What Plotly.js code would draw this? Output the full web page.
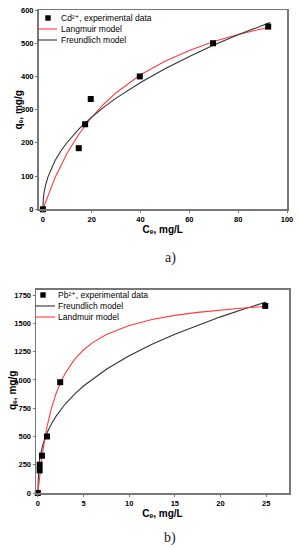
<!DOCTYPE html>
<html>
<head>
<meta charset="utf-8">
<script src="https://cdn.plot.ly/plotly-3.0.1.min.js"></script>
<style>html,body{margin:0;padding:0;background:#fff;}#chart{width:299px;height:550px;}</style>
</head>
<body>
<div id="chart"></div>
<script>
// ---- Panel a) Cd2+ ----
const cdCe = [0, 14.7, 17.3, 19.6, 39.7, 69.7, 92.3];
const cdQe = [0, 184, 256, 332, 400, 500, 550];
const cdLangC = [0, 2.5, 5, 10, 15, 20, 25, 30, 40, 50, 60, 70, 80, 93];
const cdLangQ = [0, 51, 96, 170, 229, 277, 317, 351, 405, 446, 478, 505, 526, 549];
const cdFreuC = [0, 0.05, 0.2, 0.5, 1, 2, 3.5, 5, 7.5, 10, 15, 20, 25, 30, 40, 50, 60, 70, 80, 93];
const cdFreuQ = [0, 17.6, 33.4, 50.9, 70, 96.3, 124.6, 146.9, 176.9, 201.9, 243.4, 277.7, 307.7, 334.7, 381.8, 423.4, 460.3, 494.4, 525.4, 562];
const cdXTicks = [0, 20, 40, 60, 80, 100];
const cdYTicks = [0, 100, 200, 300, 400, 500, 600];

// ---- Panel b) Pb2+ ----
const pbCe = [0, 0.2, 0.2, 0.45, 1, 2.45, 24.9];
const pbQe = [0, 200, 250, 330, 500, 980, 1655];
const pbFreuC = [0, 0.01, 0.03, 0.06, 0.1, 0.2, 0.35, 0.5, 0.75, 1, 1.5, 2, 3, 4, 5, 7.5, 10, 12.5, 15, 17.5, 20, 22.5, 25];
const pbFreuQ = [0, 101, 150, 192, 231, 297, 363, 413, 478, 530, 613, 680, 787, 873, 946, 1095, 1214, 1316, 1405, 1485, 1558, 1626, 1689];
const pbLangC = [0, 0.1, 0.25, 0.5, 1, 1.5, 2, 2.5, 3, 4, 5, 6, 7.5, 10, 12.5, 15, 17.5, 20, 22.5, 25];
const pbLangQ = [0, 83, 193, 349, 584, 753, 880, 980, 1059, 1179, 1265, 1330, 1402, 1481, 1534, 1571, 1598, 1619, 1636, 1650];
const pbXTicks = [0, 5, 10, 15, 20, 25];
const pbYTicks = [0, 250, 500, 750, 1000, 1250, 1500, 1750];

const legA = ["Cd²⁺, experimental data", "Langmuir model", "Freundlich model"];
const legB = ["Pb²⁺, experimental data", "Freundlich model", "Landmuir model"];
const xTitle = "Cₑ, mg/L";
const yTitle = "qₑ, mg/g";

const W = 299, H = 550;
const px = x => x / W;
const py = y => 1 - y / H;

const RED = '#ff3b3b', BLK = '#333333';
const mk = {symbol: 'square', size: 6, color: '#000'};

const traces = [
  {x: cdLangC, y: cdLangQ, mode: 'lines', line: {color: RED, width: 1.1}, xaxis: 'x', yaxis: 'y', showlegend: false, cliponaxis: false},
  {x: cdFreuC, y: cdFreuQ, mode: 'lines', line: {color: BLK, width: 1.1}, xaxis: 'x', yaxis: 'y', showlegend: false, cliponaxis: false},
  {x: cdCe, y: cdQe, mode: 'markers', marker: mk, xaxis: 'x', yaxis: 'y', showlegend: false, cliponaxis: false},
  {x: pbFreuC, y: pbFreuQ, mode: 'lines', line: {color: BLK, width: 1.1}, xaxis: 'x2', yaxis: 'y2', showlegend: false, cliponaxis: false},
  {x: pbLangC, y: pbLangQ, mode: 'lines', line: {color: RED, width: 1.1}, xaxis: 'x2', yaxis: 'y2', showlegend: false, cliponaxis: false},
  {x: pbCe, y: pbQe, mode: 'markers', marker: mk, xaxis: 'x2', yaxis: 'y2', showlegend: false, cliponaxis: false}
];

const tickFont = {family: 'Liberation Sans, Arial, sans-serif', size: 7.5, color: '#000', weight: 'bold'};
const titleFont = {family: 'Liberation Sans, Arial, DejaVu Sans, sans-serif', size: 10, color: '#000', weight: 'bold'};
const axBase = {
  showline: true, mirror: true, linecolor: '#777', linewidth: 1.5,
  showgrid: false, zeroline: false, ticks: 'outside', ticklen: 2, tickcolor: '#777',
  tickfont: tickFont, automargin: false, fixedrange: true
};

const layout = {
  width: W, height: H,
  margin: {l: 0, r: 0, t: 0, b: 0},
  paper_bgcolor: '#fff', plot_bgcolor: '#fff',
  showlegend: false,
  xaxis: Object.assign({}, axBase, {
    domain: [px(38.5), px(287)], range: [-1.8, 100], tickvals: cdXTicks, anchor: 'y',
    title: {text: xTitle, font: titleFont, standoff: 0}
  }),
  yaxis: Object.assign({}, axBase, {
    domain: [py(209.3), py(10)], range: [0, 600], tickvals: cdYTicks, anchor: 'x'
  }),
  xaxis2: Object.assign({}, axBase, {
    domain: [px(36), px(289)], range: [-0.2, 27.5], tickvals: pbXTicks, anchor: 'y2',
    title: {text: xTitle, font: titleFont, standoff: 0}
  }),
  yaxis2: Object.assign({}, axBase, {
    domain: [py(493), py(289.5)], range: [0, 1800], tickvals: pbYTicks, anchor: 'x2'
  }),
  shapes: [], annotations: []
};

// y-axis titles placed close to the tick labels, as in the reference
layout.annotations.push({xref: 'paper', yref: 'paper', x: px(18.5), y: py(110), xanchor: 'center', yanchor: 'middle', textangle: -90, showarrow: false, text: yTitle, font: titleFont});
layout.annotations.push({xref: 'paper', yref: 'paper', x: px(12), y: py(391), xanchor: 'center', yanchor: 'middle', textangle: -90, showarrow: false, text: yTitle, font: titleFont});

const legFont = {family: 'Liberation Sans, Arial, DejaVu Sans, sans-serif', size: 8.5, color: '#000'};
function addLegend(labels, colors, mx, x0, x1, tx, rows) {
  layout.shapes.push({type: 'rect', xref: 'paper', yref: 'paper',
    x0: px(mx - 2.7), x1: px(mx + 2.7), y0: py(rows[0] + 2.7), y1: py(rows[0] - 2.7),
    fillcolor: '#000', line: {width: 0}});
  for (let i = 1; i < 3; i++) {
    layout.shapes.push({type: 'line', xref: 'paper', yref: 'paper',
      x0: px(x0), x1: px(x1), y0: py(rows[i]), y1: py(rows[i]),
      line: {color: colors[i], width: 1.1}});
  }
  for (let i = 0; i < 3; i++) {
    layout.annotations.push({xref: 'paper', yref: 'paper', x: px(tx), y: py(rows[i]),
      xanchor: 'left', yanchor: 'middle', showarrow: false, text: labels[i], font: legFont});
  }
}
addLegend(legA, [null, RED, BLK], 48, 38, 57, 59, [18, 29, 40]);
addLegend(legB, [null, BLK, RED], 43, 35, 55, 56, [295, 306, 317]);

const capFont = {family: 'Liberation Serif, DejaVu Serif, serif', size: 14, color: '#222'};
layout.annotations.push({xref: 'paper', yref: 'paper', x: px(170), y: py(258), xanchor: 'center', yanchor: 'middle', showarrow: false, text: 'a)', font: capFont});
layout.annotations.push({xref: 'paper', yref: 'paper', x: px(170), y: py(538), xanchor: 'center', yanchor: 'middle', showarrow: false, text: 'b)', font: capFont});

Plotly.newPlot('chart', traces, layout, {staticPlot: true, displayModeBar: false});
</script>
</body>
</html>
